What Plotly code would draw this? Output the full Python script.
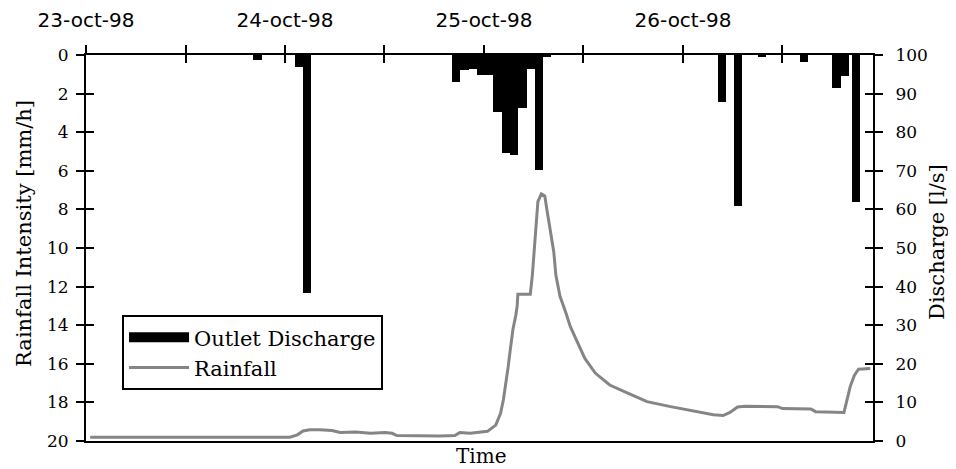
import plotly.graph_objects as go

# ---------------- data ----------------
# black bars (left axis, mm/h) - centre time of each 1-hour bar
bar_time = [
    "1998-10-23 20:40", "1998-10-24 01:42", "1998-10-24 02:40",
    "1998-10-24 20:38", "1998-10-24 21:38", "1998-10-24 22:38", "1998-10-24 23:38",
    "1998-10-25 00:38", "1998-10-25 01:38", "1998-10-25 02:38", "1998-10-25 03:38",
    "1998-10-25 04:38", "1998-10-25 05:38", "1998-10-25 06:38", "1998-10-25 07:38",
    "1998-10-26 04:40", "1998-10-26 06:37", "1998-10-26 09:33", "1998-10-26 14:38",
    "1998-10-26 18:30", "1998-10-26 19:28", "1998-10-26 20:51",
]
bar_value = [
    0.25, 0.62, 12.35,
    1.38, 0.78, 0.70, 1.04,
    1.04, 2.94, 5.09, 5.18,
    2.76, 0.74, 5.96, 0.09,
    2.42, 7.81, 0.12, 0.35,
    1.69, 1.07, 7.63,
]

# grey line (right axis, l/s)
line_time = [
    "1998-10-23 00:30", "1998-10-23 07:40", "1998-10-23 14:25", "1998-10-24 00:35",
    "1998-10-24 01:30", "1998-10-24 02:10", "1998-10-24 03:00", "1998-10-24 04:10",
    "1998-10-24 05:40", "1998-10-24 06:40", "1998-10-24 08:30", "1998-10-24 10:20",
    "1998-10-24 12:05", "1998-10-24 12:55", "1998-10-24 13:30", "1998-10-24 16:20",
    "1998-10-24 18:40", "1998-10-24 20:30", "1998-10-24 21:05", "1998-10-24 22:20",
    "1998-10-24 23:30", "1998-10-25 00:25", "1998-10-25 01:25", "1998-10-25 02:00",
    "1998-10-25 02:20", "1998-10-25 02:40", "1998-10-25 02:55", "1998-10-25 03:10",
    "1998-10-25 03:30", "1998-10-25 03:50", "1998-10-25 04:00", "1998-10-25 04:05",
    "1998-10-25 05:35", "1998-10-25 05:50", "1998-10-25 06:05", "1998-10-25 06:20",
    "1998-10-25 06:30", "1998-10-25 06:55", "1998-10-25 07:20", "1998-10-25 07:35",
    "1998-10-25 08:00", "1998-10-25 08:25", "1998-10-25 08:40", "1998-10-25 09:10",
    "1998-10-25 09:50", "1998-10-25 10:25", "1998-10-25 11:20", "1998-10-25 12:10",
    "1998-10-25 13:25", "1998-10-25 15:10", "1998-10-25 17:20", "1998-10-25 19:40",
    "1998-10-25 22:30", "1998-10-26 01:40", "1998-10-26 03:40", "1998-10-26 04:50",
    "1998-10-26 05:40", "1998-10-26 06:35", "1998-10-26 07:30", "1998-10-26 11:25",
    "1998-10-26 12:00", "1998-10-26 15:25", "1998-10-26 16:00", "1998-10-26 19:25",
    "1998-10-26 19:40", "1998-10-26 20:10", "1998-10-26 20:40", "1998-10-26 21:10",
    "1998-10-26 22:35",
]
line_value = [
    1.0, 1.0, 1.0, 1.0,
    1.6, 2.6, 2.9, 2.9,
    2.7, 2.2, 2.3, 2.0,
    2.2, 2.0, 1.4, 1.3,
    1.3, 1.4, 2.2, 2.0,
    2.2, 2.5, 4.1, 7.2,
    10.6, 15.0, 19.2, 23.6,
    29.0, 32.5, 35.0, 38.0,
    38.0, 43.0, 50.0, 57.0,
    62.0, 64.0, 63.5, 60.0,
    54.0, 49.0, 43.0, 37.5,
    33.5, 29.6, 25.3, 21.4,
    17.6, 14.5, 12.4, 10.2,
    8.9, 7.6, 6.8, 6.6,
    7.4, 8.8, 9.0, 8.9,
    8.4, 8.3, 7.6, 7.4,
    9.8, 14.1, 17.0, 18.6,
    18.8,
]

time_ticks = [
    "1998-10-23 00:00", "1998-10-23 12:00", "1998-10-24 00:00", "1998-10-24 12:00",
    "1998-10-25 00:00", "1998-10-25 12:00", "1998-10-26 00:00", "1998-10-26 12:00",
]
time_tick_text = ["23-oct-98", "", "24-oct-98", "", "25-oct-98", "", "26-oct-98", ""]
x_range = ["1998-10-23 00:00", "1998-10-26 22:55"]

left_ticks = [0, 2, 4, 6, 8, 10, 12, 14, 16, 18, 20]
right_ticks = [0, 10, 20, 30, 40, 50, 60, 70, 80, 90, 100]

# ---------------- figure ----------------
SERIF = "DejaVu Serif"
SANS = "DejaVu Sans"
HOUR_MS = 3600000

fig = go.Figure()
fig.add_trace(go.Scatter(
    x=line_time, y=line_value, mode="lines", name="Rainfall",
    line=dict(color="#858585", width=3), yaxis="y2", legendrank=2,
))
fig.add_trace(go.Bar(
    x=bar_time, y=bar_value, width=[HOUR_MS] * len(bar_value),
    marker=dict(color="black", line=dict(width=0)),
    name="Outlet Discharge", yaxis="y", showlegend=False,
))
# legend key for the black bars
fig.add_trace(go.Scatter(
    x=[None], y=[None], mode="lines", name="Outlet Discharge",
    line=dict(color="black", width=18), yaxis="y", legendrank=1,
))
# empty traces so that the "inside" tick companion axes are drawn (cross ticks)
for xa, ya in (("x2", "y"), ("x", "y3"), ("x", "y4")):
    fig.add_trace(go.Scatter(x=[None], y=[None], xaxis=xa, yaxis=ya,
                             showlegend=False, hoverinfo="skip"))

common_x = dict(type="date", range=x_range, tickvals=time_ticks, showgrid=False,
                zeroline=False, tickcolor="black", tickwidth=1.5, ticklen=8,
                automargin=False)
fig.update_layout(
    width=956, height=469,
    margin=dict(l=78, r=91, t=47, b=36),
    paper_bgcolor="white", plot_bgcolor="white",
    bargap=0,
    xaxis=dict(common_x, side="top", ticktext=time_tick_text, ticks="outside",
               showline=True, linecolor="black", linewidth=2, mirror=True,
               tickfont=dict(family=SANS, size=20, color="black"), ticklabelstandoff=10),
    xaxis2=dict(common_x, side="top", overlaying="x", anchor="y", ticks="inside",
                showticklabels=False, showline=False),
    yaxis=dict(range=[20, 0], tickvals=left_ticks, ticks="outside", ticklen=8,
               tickwidth=1.5, tickcolor="black", showline=True, linecolor="black",
               linewidth=2, showgrid=False, zeroline=False, side="left",
               automargin=False,
               tickfont=dict(family=SERIF, size=17, color="black"), ticklabelstandoff=4),
    yaxis3=dict(range=[20, 0], tickvals=left_ticks, ticks="inside", ticklen=8,
                tickwidth=1.5, tickcolor="black", overlaying="y", side="left",
                automargin=False,
                showticklabels=False, showgrid=False, zeroline=False, showline=False),
    yaxis2=dict(range=[0, 100], tickvals=right_ticks, ticks="outside", ticklen=8,
                tickwidth=1.5, tickcolor="black", showline=True, linecolor="black",
                linewidth=2, showgrid=False, zeroline=False, side="right",
                overlaying="y", automargin=False,
                tickfont=dict(family=SERIF, size=17, color="black"),
                ticklabelstandoff=9),
    yaxis4=dict(range=[0, 100], tickvals=right_ticks, ticks="inside", ticklen=8,
                tickwidth=1.5, tickcolor="black", overlaying="y", side="right",
                automargin=False,
                showticklabels=False, showgrid=False, zeroline=False, showline=False),
    legend=dict(x=0.0458, y=0.326, xanchor="left", yanchor="top",
                bordercolor="black", borderwidth=2, bgcolor="white",
                font=dict(family=SERIF, size=21, color="black"), itemwidth=60),
    annotations=[
        dict(text="Rainfall Intensity [mm/h]", xref="paper", yref="paper",
             x=-0.0788, y=0.539, xanchor="center", yanchor="middle",
             textangle=-90, showarrow=False,
             font=dict(family=SERIF, size=21, color="black")),
        dict(text="Discharge [l/s]", xref="paper", yref="paper",
             x=1.081, y=0.515, xanchor="center", yanchor="middle",
             textangle=-90, showarrow=False,
             font=dict(family=SERIF, size=21, color="black")),
        dict(text="Time", xref="paper", yref="paper", x=0.502, y=-0.040,
             xanchor="center", yanchor="middle", showarrow=False,
             font=dict(family=SERIF, size=20, color="black")),
    ],
)

fig.write_html("out.html")
